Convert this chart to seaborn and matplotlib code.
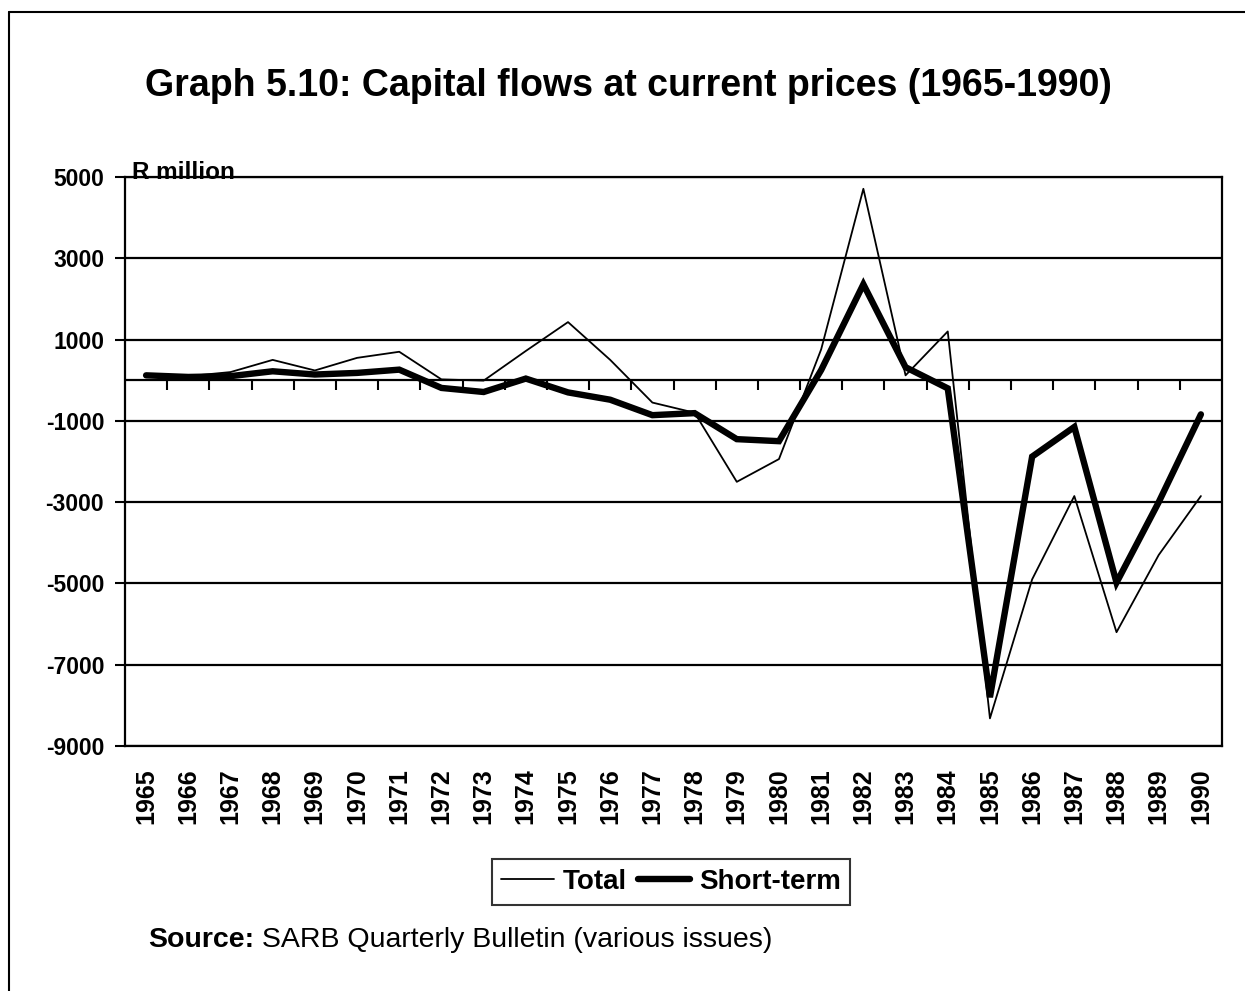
import numpy as np
import pandas as pd
import matplotlib
matplotlib.use('Agg')
import matplotlib.pyplot as plt
from matplotlib.lines import Line2D
import seaborn as sns

# data (R million)
years = list(range(1965, 1991))
total = [150, 100, 200, 500, 240, 550, 700, 20, -10, 720,
         1430, 500, -550, -800, -2500, -1940, 760, 4710, 120, 1200,
         -8320, -4900, -2850, -6200, -4300, -2850]
short_term = [120, 80, 100, 220, 140, 180, 260, -190, -290, 40,
              -300, -480, -860, -810, -1450, -1500, 250, 2360, 320, -200,
              -7800, -1880, -1150, -4980, -3000, -840]
y_ticks = [5000, 3000, 1000, -1000, -3000, -5000, -7000, -9000]

df = pd.DataFrame({'pos': np.arange(len(years)), 'Total': total, 'Short-term': short_term})

sns.set_style('white')
plt.rcParams['font.family'] = ['Liberation Sans', 'DejaVu Sans']
plt.rcParams['text.color'] = 'black'
plt.rcParams['xtick.color'] = 'black'
plt.rcParams['ytick.color'] = 'black'

fig = plt.figure(figsize=(12.45, 9.91), dpi=100)
ax = fig.add_axes([125 / 1245, 1 - 746 / 991, 1097 / 1245, 569 / 991])

#Plotting the two series
sns.lineplot(x='pos', y='Total', data=df, ax=ax, color='black', linewidth=1.3)
sns.lineplot(x='pos', y='Short-term', data=df, ax=ax, color='black', linewidth=4.6,
             solid_joinstyle='miter')

ax.set_xlim(-0.5, len(years) - 0.5)
ax.set_ylim(-9000, 5000)
ax.set_yticks(y_ticks)
ax.set_yticklabels([str(v) for v in y_ticks], fontsize=16.5, fontweight='bold')
ax.set_xticks(df['pos'])
ax.set_xticklabels([str(y) for y in years], rotation=90, fontsize=18, fontweight='bold')
ax.tick_params(axis='x', length=0, pad=16)
ax.tick_params(axis='y', direction='out', length=7, width=1.5, left=True, pad=8)
ax.set_xlabel('')
ax.set_ylabel('')

#Gridlines and category axis at zero
ax.grid(False)
for v in y_ticks:
    ax.axhline(v, color='black', linewidth=1.6, zorder=1)
ax.axhline(0, color='black', linewidth=1.6, zorder=1)
ax.vlines(np.arange(0.5, len(years) - 1, 1), -230, 0, color='black', linewidth=1.5, zorder=1)

for s in ax.spines.values():
    s.set_visible(True)
    s.set_color('black')
    s.set_linewidth(1.6)

ax.text(7 / 1097, 0.997, 'R million', transform=ax.transAxes, fontsize=17.5,
        fontweight='bold', ha='left', va='baseline')

fig.text(0.505, 0.913, 'Graph 5.10: Capital flows at current prices (1965-1990)',
         fontsize=27, fontweight='bold', ha='center', va='center')

#Legend
handles = [Line2D([], [], color='black', linewidth=1.3),
           Line2D([], [], color='black', linewidth=4.6)]
leg = fig.legend(handles, ['Total', 'Short-term'], loc='center', bbox_to_anchor=(671 / 1245, 1 - 882 / 991),
                 ncol=2, frameon=True, fancybox=False, handlelength=1.9, handletextpad=0.3,
                 columnspacing=0.4, borderpad=0.35, borderaxespad=0,
                 prop={'weight': 'bold', 'size': 20})
leg.get_frame().set_edgecolor('black')
leg.get_frame().set_linewidth(1.5)

#Source note
src = fig.text(148 / 1245, 1 - 940 / 991, 'Source:', fontsize=20.5, fontweight='bold',
               ha='left', va='center')
ax.annotate(' SARB Quarterly Bulletin (various issues)', xy=(1, 0), xycoords=src,
            fontsize=20.5, ha='left', va='bottom', annotation_clip=False)

#Outer frame
fig.add_artist(Line2D([9 / 1245, 9 / 1245], [0, 1 - 12 / 991], color='black', linewidth=1.5,
                      transform=fig.transFigure))
fig.add_artist(Line2D([9 / 1245, 1], [1 - 12 / 991, 1 - 12 / 991], color='black', linewidth=1.5,
                      transform=fig.transFigure))

fig.savefig('out.png', dpi=100)
